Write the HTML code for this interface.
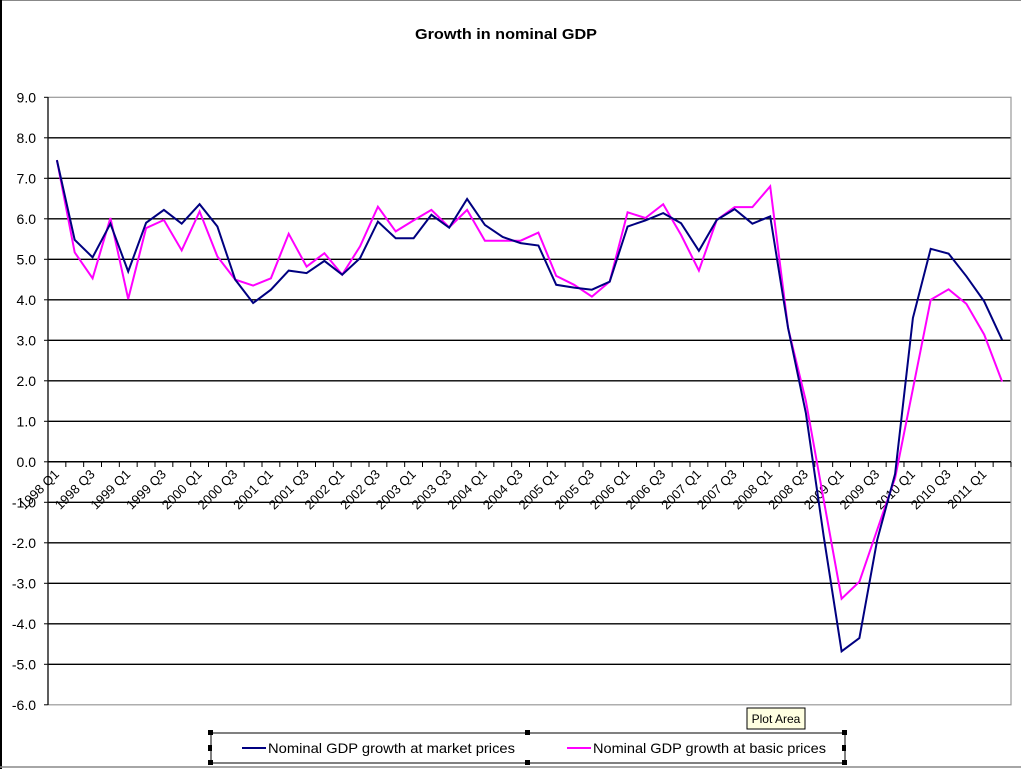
<!DOCTYPE html>
<html><head><meta charset="utf-8"><style>
html,body{margin:0;padding:0;background:#fff;}
svg{display:block;font-family:"Liberation Sans",Arial,sans-serif;}
</style></head><body>
<svg id="c" width="1021" height="769" xmlns="http://www.w3.org/2000/svg">
<rect x="0" y="0" width="1021" height="769" fill="#fff"/>
<line x1="0" y1="0.5" x2="1021" y2="0.5" stroke="#888" stroke-width="1"/>
<line x1="1" y1="0" x2="1" y2="769" stroke="#000" stroke-width="2"/>
<line x1="0" y1="767" x2="1021" y2="767" stroke="#888" stroke-width="1.5"/>
<text x="506" y="39" font-size="15" font-weight="bold" text-anchor="middle" textLength="182" lengthAdjust="spacingAndGlyphs">Growth in nominal GDP</text>
<g id="grid"></g>
<rect x="48" y="97.3" width="963" height="607.5" fill="none" stroke="#999" stroke-width="1.2"/>
<g id="xl"></g>
<polyline id="pk" fill="none" stroke="#ff00ff" stroke-width="2"/>
<polyline id="nv" fill="none" stroke="#000080" stroke-width="2"/>
<line x1="48" y1="97" x2="48" y2="705" stroke="#000" stroke-width="1.2"/>
<rect x="211" y="733" width="634" height="30" fill="#fff" stroke="#000" stroke-width="1"/>
<line x1="242" y1="748" x2="266" y2="748" stroke="#000080" stroke-width="2"/>
<text x="268" y="753" font-size="14" textLength="247" lengthAdjust="spacingAndGlyphs">Nominal GDP growth at market prices</text>
<line x1="567" y1="748" x2="591" y2="748" stroke="#ff00ff" stroke-width="2"/>
<text x="593" y="753" font-size="14" textLength="233" lengthAdjust="spacingAndGlyphs">Nominal GDP growth at basic prices</text>
<g fill="#000">
<rect x="208" y="730" width="5" height="5"/><rect x="208" y="745" width="4" height="6"/><rect x="208" y="760" width="5" height="5"/>
<rect x="525" y="730" width="5" height="5"/><rect x="525" y="760" width="5" height="5"/>
<rect x="842" y="730" width="5" height="5"/><rect x="842" y="745" width="4" height="6"/><rect x="842" y="760" width="5" height="5"/>
</g>
<rect x="747" y="708" width="58" height="21" fill="#ffffe1" stroke="#000" stroke-width="1"/>
<text x="776" y="723" font-size="12" text-anchor="middle">Plot Area</text>
</svg>
<script>
function Y(v){return 461.8-v*40.5;}
function X(i){return 48+17.833*(i+0.5);}
var g=document.getElementById('grid'),s='';
for(var v=9;v>=-6;v--){
  var y=Y(v);
  if(v!=9&&v!=-6) s+='<line x1="48" y1="'+y+'" x2="1011" y2="'+y+'" stroke="#000" stroke-width="1.3"/>';
  s+='<line x1="44" y1="'+y+'" x2="48" y2="'+y+'" stroke="#000" stroke-width="1"/>';
  s+='<text x="36" y="'+(y+5)+'" font-size="14" text-anchor="end">'+v.toFixed(1)+'</text>';
}
g.innerHTML=s;
var xl=document.getElementById('xl'),t='';
for(var i=0;i<=54;i++){var x=48+17.833*i;t+='<line x1="'+x+'" y1="462" x2="'+x+'" y2="467" stroke="#000" stroke-width="1"/>';}
t+='<line x1="48" y1="461.8" x2="1011" y2="461.8" stroke="#000" stroke-width="1.5"/>';
for(var i=0;i<54;i+=2){
  var yr=1998+Math.floor(i/4),q=(i%4==0)?'Q1':'Q3';
  var x=X(i)+3,y=475;
  t+='<text x="'+x+'" y="'+y+'" font-size="13" text-anchor="end" transform="rotate(-45 '+x+' '+y+')">'+yr+' '+q+'</text>';
}
xl.innerHTML=t;
var nv=[7.45,5.48,5.05,5.88,4.7,5.9,6.22,5.88,6.36,5.81,4.5,3.92,4.25,4.72,4.66,4.96,4.62,5.03,5.93,5.52,5.52,6.1,5.78,6.49,5.85,5.55,5.4,5.34,4.37,4.3,4.25,4.45,5.81,5.96,6.14,5.89,5.21,5.97,6.24,5.88,6.06,3.3,1.2,-1.84,-4.68,-4.35,-1.93,-0.3,3.55,5.26,5.14,4.58,3.96,3.01];
var pk=[7.45,5.17,4.53,6.02,4.02,5.77,5.97,5.22,6.18,5.07,4.5,4.35,4.53,5.63,4.82,5.15,4.62,5.32,6.3,5.69,5.96,6.22,5.79,6.22,5.46,5.46,5.46,5.66,4.59,4.37,4.08,4.45,6.16,6.02,6.36,5.6,4.72,5.97,6.29,6.29,6.8,3.3,1.5,-0.94,-3.38,-2.96,-1.68,-0.4,1.8,4.0,4.26,3.9,3.14,1.98];
function pts(a){return a.map(function(v,i){return X(i).toFixed(1)+','+Y(v).toFixed(1);}).join(' ');}
document.getElementById('nv').setAttribute('points',pts(nv));
document.getElementById('pk').setAttribute('points',pts(pk));
</script>
</body></html>
